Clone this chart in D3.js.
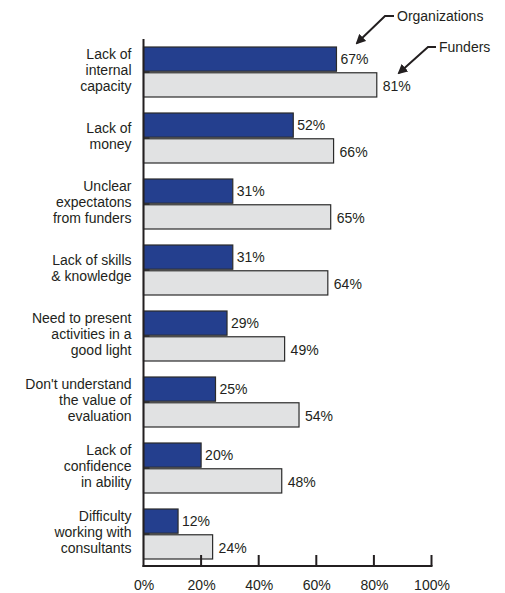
<!DOCTYPE html>
<html>
<head>
<meta charset="utf-8">
<script src="https://cdn.jsdelivr.net/npm/d3@7"></script>
<style>
  body { margin: 0; background: #fff; }
  svg text { font-family: "Liberation Sans", Arial, sans-serif; fill: #231f20; }
</style>
</head>
<body>
<div id="chart"></div>
<script>
// categories, top to bottom
const categories = [
    ["Lack of", "internal", "capacity"],
    ["Lack of", "money"],
    ["Unclear", "expectatons", "from funders"],
    ["Lack of skills", "& knowledge"],
    ["Need to present", "activities in a", "good light"],
    ["Don't understand", "the value of", "evaluation"],
    ["Lack of", "confidence", "in ability"],
    ["Difficulty", "working with", "consultants"]
];
const organizations = [67, 52, 31, 31, 29, 25, 20, 12];
const funders = [81, 66, 65, 64, 49, 54, 48, 24];
const series = ["Organizations", "Funders"];
const tickValues = [0, 20, 40, 60, 80, 100];

const width = 505, height = 593;
const colors = {Organizations: "#243f8e", Funders: "#e1e2e3"};

const rows = categories.map((c, i) => ({
    key: i,
    lines: c,
    values: [
        {series: "Organizations", value: organizations[i]},
        {series: "Funders", value: funders[i]}
    ]
}));

const svg = d3.select("#chart").append("svg")
    .attr("width", width)
    .attr("height", height);

const x = d3.scaleLinear().domain([0, 100]).range([143.5, 431.5]);

const y = d3.scaleBand()
    .domain(rows.map(d => d.key))
    .range([47, 559])
    .paddingInner(16 / 66)
    .paddingOuter(0);

const ySub = d3.scaleBand()
    .domain(series)
    .range([0, y.bandwidth()])
    .paddingInner(0.06);

// bars
const groups = svg.selectAll(".group")
    .data(rows)
    .join("g")
    .attr("class", "group")
    .attr("transform", d => `translate(0,${y(d.key)})`);

// little shadow under the org bar, at the axis
groups.append("rect")
    .attr("x", x(0))
    .attr("y", ySub("Organizations") + ySub.bandwidth())
    .attr("width", 6)
    .attr("height", 2)
    .attr("fill", "#231f20");

groups.selectAll(".bar")
    .data(d => d.values)
    .join("rect")
    .attr("class", "bar")
    .attr("x", x(0))
    .attr("y", d => ySub(d.series))
    .attr("width", d => x(d.value) - x(0))
    .attr("height", ySub.bandwidth())
    .attr("fill", d => colors[d.series])
    .attr("stroke", "#2b2b2b")
    .attr("stroke-width", 1.2);

groups.selectAll(".val")
    .data(d => d.values)
    .join("text")
    .attr("class", "val")
    .attr("x", d => x(d.value) + (d.series === "Funders" ? 6 : 4))
    .attr("y", d => ySub(d.series) + ySub.bandwidth() / 2 + (d.series === "Funders" ? 1 : 0))
    .attr("dy", "0.35em")
    .style("font-size", "14px")
    .text(d => d.value + "%");

// category labels, one text per line
const lineH = 15.8;
groups.selectAll(".cat")
    .data(d => d.lines.map((l, i) => ({l, i, n: d.lines.length})))
    .join("text")
    .attr("class", "cat")
    .attr("text-anchor", "end")
    .style("font-size", "14px")
    .attr("x", 131.5)
    .attr("y", d => y.bandwidth() / 2 - 2 + (d.i - (d.n - 1) / 2) * lineH)
    .attr("dy", "0.35em")
    .text(d => d.l);

// x axis
const xAxis = d3.axisBottom(x)
    .tickValues(tickValues)
    .tickSize(0)
    .tickPadding(14)
    .tickFormat(d => d + "%");

const axisG = svg.append("g")
    .attr("transform", "translate(0,566)")
    .call(xAxis);
axisG.select(".domain").remove();
axisG.selectAll("text")
    .style("font-size", "14px")
    .attr("fill", "#231f20");

// upward ticks
svg.selectAll(".tick-up")
    .data(tickValues.filter(d => d > 0))
    .join("line")
    .attr("class", "tick-up")
    .attr("x1", d => x(d)).attr("x2", d => x(d))
    .attr("y1", 566).attr("y2", 555)
    .attr("stroke", "#231f20")
    .attr("stroke-width", 2);

// axis lines
svg.append("line")
    .attr("x1", x(0) - 1).attr("x2", x(100) + 1)
    .attr("y1", 566).attr("y2", 566)
    .attr("stroke", "#231f20").attr("stroke-width", 2);
svg.append("line")
    .attr("x1", x(0)).attr("x2", x(0))
    .attr("y1", 39).attr("y2", 567)
    .attr("stroke", "#231f20").attr("stroke-width", 2);

// legend with arrows
svg.append("defs").append("marker")
    .attr("id", "arrow")
    .attr("viewBox", "0 0 10 10")
    .attr("refX", 8).attr("refY", 5)
    .attr("markerWidth", 5).attr("markerHeight", 5)
    .attr("orient", "auto")
    .append("path")
    .attr("d", "M0,0L10,5L0,10Z")
    .attr("fill", "#231f20");

const legend = [
    {name: "Organizations", tx: 397, ty: 16, pts: [[394, 16], [385, 16], [357, 43]]},
    {name: "Funders", tx: 439, ty: 47, pts: [[436, 47], [428, 47], [399, 73]]}
];

svg.selectAll(".leg-line")
    .data(legend)
    .join("path")
    .attr("class", "leg-line")
    .attr("d", d => d3.line()(d.pts))
    .attr("fill", "none")
    .attr("stroke", "#231f20")
    .attr("stroke-width", 2)
    .attr("marker-end", "url(#arrow)");

svg.selectAll(".leg-text")
    .data(legend)
    .join("text")
    .attr("class", "leg-text")
    .attr("x", d => d.tx)
    .attr("y", d => d.ty)
    .attr("dy", "0.35em")
    .style("font-size", "14px")
    .text(d => d.name);
</script>
</body>
</html>
